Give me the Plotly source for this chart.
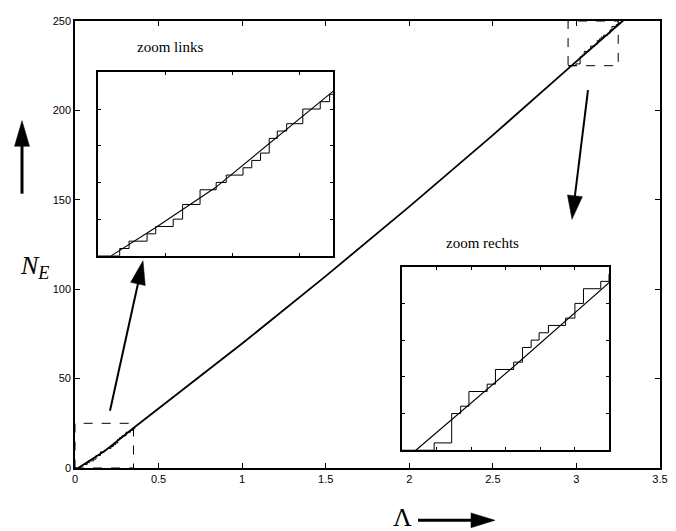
import math
import plotly.graph_objects as go

# ---------------- data ----------------
main_lambda = [0.0194, 0.086, 0.175, 0.266, 0.35, 1.0, 1.5, 2.0, 2.5, 2.9726, 3.112, 3.25, 3.28]
main_N = [0, 3.85, 9.3, 16.1, 22.4, 69.6, 107.3, 146.2, 186.2, 225.2, 236.4, 247.8, 250.3]

left_jump_lambda = [0.0323, 0.0463, 0.0731, 0.0860, 0.112, 0.126, 0.152, 0.176, 0.191,
                    0.216, 0.229, 0.242, 0.255, 0.267, 0.281, 0.305, 0.331, 0.345]
left_jump_count = [1, 1, 1, 1, 1, 2, 2, 1, 1, 1, 1, 1, 2, 1, 1, 2, 1, 1]
left_start_N = 0
left_range_x = [0, 0.35]
left_range_y = [0, 25]

right_jump_lambda = [2.9966, 3.022, 3.035, 3.047, 3.0734, 3.0854, 3.1118, 3.1247, 3.1372,
                     3.1487, 3.1622, 3.1871, 3.2006, 3.213, 3.238, 3.25]
right_jump_count = [1, 4, 1, 2, 1, 2, 1, 2, 1, 1, 1, 1, 2, 2, 1, 1]
right_start_N = 225
right_range_x = [2.95, 3.25]
right_range_y = [225, 250]

x_ticks = [0, 0.5, 1, 1.5, 2, 2.5, 3, 3.5]
x_ticklabels = ["0", "0.5", "1", "1.5", "2", "2.5", "3", "3.5"]
y_ticks = [0, 50, 100, 150, 200, 250]
y_ticklabels = ["0", "50", "100", "150", "200", "250"]


def staircase(jumps, counts, start_n, x0, x1):
    xs = [x0]
    ys = [start_n]
    n = start_n
    for j, c in zip(jumps, counts):
        n += c
        xs.append(j)
        ys.append(n)
    xs.append(x1)
    ys.append(n)
    return xs, ys


lx, ly = staircase(left_jump_lambda, left_jump_count, left_start_N, left_range_x[0], left_range_x[1] + 0.01)
rx, ry = staircase(right_jump_lambda, right_jump_count, right_start_N, right_range_x[0], right_range_x[1] + 0.01)

# ---------------- layout geometry (window pixel coordinates) ----------------
OFF = 8                       # default page body margin
FW, FH = 676 - OFF, 531
PL, PR, PT, PB = 75, 660, 15, 468   # plot area in window pixels
ML, MR, MT, MB = PL - OFF, FW - (PR - OFF), PT - OFF, FH - (PB - OFF)
PW, PH = PR - PL, PB - PT


def P(px, py):
    return ((px - PL) / PW, (PB - py) / PH)


def dom_x(a, b):
    return [(a - PL) / PW, (b - PL) / PW]


def dom_y(top, bottom):
    return [(PB - bottom) / PH, (PB - top) / PH]


fig = go.Figure()

line_style = dict(color="black", width=1.1)
step_style = dict(color="black", width=1.0)

# main panel
fig.add_trace(go.Scatter(x=main_lambda, y=main_N, mode="lines", line=dict(color="black", width=1.8),
                         xaxis="x", yaxis="y", hoverinfo="skip"))
fig.add_trace(go.Scatter(x=lx, y=ly, mode="lines", line=step_style, line_shape="hv",
                         xaxis="x", yaxis="y", hoverinfo="skip"))
fig.add_trace(go.Scatter(x=rx, y=ry, mode="lines", line=step_style, line_shape="hv",
                         xaxis="x", yaxis="y", hoverinfo="skip"))

# left inset
fig.add_trace(go.Scatter(x=main_lambda, y=main_N, mode="lines", line=line_style,
                         xaxis="x2", yaxis="y2", hoverinfo="skip"))
fig.add_trace(go.Scatter(x=lx, y=ly, mode="lines", line=step_style, line_shape="hv",
                         xaxis="x2", yaxis="y2", hoverinfo="skip"))
# right inset
fig.add_trace(go.Scatter(x=main_lambda, y=main_N, mode="lines", line=line_style,
                         xaxis="x3", yaxis="y3", hoverinfo="skip"))
fig.add_trace(go.Scatter(x=rx, y=ry, mode="lines", line=step_style, line_shape="hv",
                         xaxis="x3", yaxis="y3", hoverinfo="skip"))

tick_font = dict(family="Liberation Sans, Arial", size=11, color="black")
main_axis = dict(showline=True, linecolor="black", linewidth=1.6, mirror="ticks", ticks="inside",
                 ticklen=5, tickcolor="black", showgrid=False, zeroline=False, tickfont=tick_font)
inset_axis = dict(showline=True, linecolor="black", linewidth=2, mirror="ticks", ticks="inside",
                  ticklen=3, tickcolor="black", showgrid=False, zeroline=False, showticklabels=False)

shapes = []
dash = dict(color="black", width=1, dash="dash")
shapes.append(dict(type="rect", xref="x", yref="y", x0=left_range_x[0], x1=left_range_x[1],
                   y0=left_range_y[0], y1=left_range_y[1], line=dash))
shapes.append(dict(type="rect", xref="x", yref="y", x0=right_range_x[0], x1=right_range_x[1],
                   y0=right_range_y[0], y1=right_range_y[1], line=dash))


def arrow(tail, tip, head_len, head_w, lw):
    dx, dy = tip[0] - tail[0], tip[1] - tail[1]
    d = math.hypot(dx, dy)
    ux, uy = dx / d, dy / d
    bx, by = tip[0] - ux * head_len, tip[1] - uy * head_len
    qx, qy = -uy, ux
    a = P(*tail)
    b = P(bx + ux * 2, by + uy * 2)
    t = P(*tip)
    p1 = P(bx + qx * head_w / 2, by + qy * head_w / 2)
    p2 = P(bx - qx * head_w / 2, by - qy * head_w / 2)
    shapes.append(dict(type="line", xref="paper", yref="paper", x0=a[0], y0=a[1], x1=b[0], y1=b[1],
                       line=dict(color="black", width=lw)))
    shapes.append(dict(type="path", xref="paper", yref="paper",
                       path=f"M {t[0]},{t[1]} L {p1[0]},{p1[1]} L {p2[0]},{p2[1]} Z",
                       fillcolor="black", line=dict(color="black", width=0.5)))


arrow((22, 190), (22, 116), 26, 15, 3)
arrow((110, 410), (143, 258), 24, 15, 2)
arrow((588, 85), (572, 216), 24, 15, 2)
arrow((418, 521), (495, 521), 24, 15, 3)

serif = "Liberation Serif, Times New Roman, serif"


def label(text, px, py, size):
    x, y = P(px, py)
    return dict(text=text, x=x, y=y, xref="paper", yref="paper", xanchor="center", yanchor="middle",
                showarrow=False, font=dict(family=serif, size=size, color="black"))


annotations = [
    label("zoom links", 170, 41, 15),
    label("zoom rechts", 482, 240, 15),
    label("<i>N</i><sub><i>E</i></sub>", 35, 264, 26),
    label("Λ", 402, 518, 26),
]

fig.update_layout(
    width=FW, height=FH,
    margin=dict(l=ML, r=MR, t=MT, b=MB, pad=0),
    paper_bgcolor="white", plot_bgcolor="white",
    showlegend=False,
    xaxis=dict(main_axis, range=[0, 3.5], tickvals=x_ticks, ticktext=x_ticklabels, domain=[0, 1]),
    yaxis=dict(main_axis, range=[0, 250], tickvals=y_ticks, ticktext=y_ticklabels, domain=[0, 1]),
    xaxis2=dict(inset_axis, range=left_range_x, dtick=0.1, tick0=0, domain=dom_x(98, 333), anchor="y2"),
    yaxis2=dict(inset_axis, range=left_range_y, dtick=5, tick0=0, domain=dom_y(67, 253), anchor="x2"),
    xaxis3=dict(inset_axis, range=right_range_x, dtick=0.05, tick0=0, domain=dom_x(402, 609), anchor="y3"),
    yaxis3=dict(inset_axis, range=right_range_y, dtick=5, tick0=0, domain=dom_y(264, 450), anchor="x3"),
    shapes=shapes,
    annotations=annotations,
)

fig.write_html("out.html")
